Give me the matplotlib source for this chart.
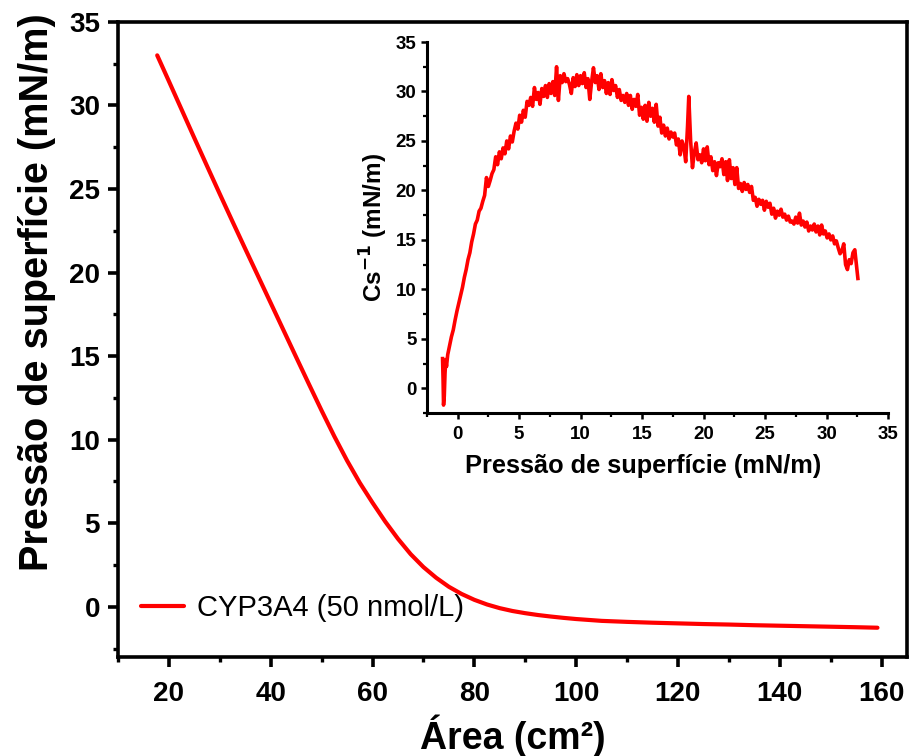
import matplotlib
matplotlib.use("Agg")
import matplotlib.pyplot as plt
from matplotlib.ticker import MultipleLocator

plt.rcParams['font.family'] = ['Liberation Sans', 'DejaVu Sans']

# Isotherm: surface pressure vs. trough area
area = [17.7, 20, 22.5, 25, 27.5, 30, 32.5, 35, 37.5, 40, 42.5, 45, 47.5, 50,
        52.5, 55, 57.5, 60, 62.5, 65, 67.5, 70, 72.5, 75, 77.5, 80, 82.5, 85,
        87.5, 90, 92.5, 95, 97.5, 100, 105, 110, 115, 120, 125, 130, 135,
        140, 145, 150, 155, 159.2]
pressure = [33.0, 31.45, 29.75, 28.05, 26.37, 24.7, 23.05, 21.42, 19.8, 18.18,
            16.56, 14.94, 13.33, 11.74, 10.2, 8.75, 7.42, 6.23, 5.1, 4.07,
            3.15, 2.38, 1.74, 1.2, 0.77, 0.42, 0.14, -0.08, -0.25, -0.38,
            -0.49, -0.58, -0.66, -0.73, -0.84, -0.9, -0.95, -0.99, -1.03,
            -1.06, -1.1, -1.13, -1.16, -1.19, -1.22, -1.25]

# Compressional modulus vs. surface pressure
pi_inset = [-1.22, -1.18, -1.14, -1.08, -1.02, -0.96, -0.90, -0.80, -0.65, -0.50,
            -0.35, -0.20, -0.05, 0.10, 0.25, 0.40, 0.55, 0.70, 0.85, 1.00,
            1.15, 1.30, 1.45, 1.60, 1.75, 1.90, 2.05, 2.20, 2.35, 2.50,
            2.65, 2.80, 2.95, 3.10, 3.25, 3.40, 3.55, 3.70, 3.85, 4.00,
            4.15, 4.30, 4.45, 4.60, 4.75, 4.90, 5.05, 5.20, 5.35, 5.50,
            5.65, 5.80, 5.95, 6.10, 6.25, 6.40, 6.55, 6.70, 6.85, 7.00,
            7.15, 7.30, 7.45, 7.60, 7.75, 7.90, 8.05, 8.20, 8.35, 8.50,
            8.65, 8.80, 8.95, 9.10, 9.25, 9.40, 9.55, 9.70, 9.85, 10.00,
            10.15, 10.30, 10.45, 10.60, 10.75, 10.90, 11.05, 11.20, 11.35, 11.50,
            11.65, 11.80, 11.95, 12.10, 12.25, 12.40, 12.55, 12.70, 12.85, 13.00,
            13.15, 13.30, 13.45, 13.60, 13.75, 13.90, 14.05, 14.20, 14.35, 14.50,
            14.65, 14.80, 14.95, 15.10, 15.25, 15.40, 15.55, 15.70, 15.85, 16.00,
            16.15, 16.30, 16.45, 16.60, 16.75, 16.90, 17.05, 17.20, 17.35, 17.50,
            17.65, 17.80, 17.95, 18.10, 18.25, 18.40, 18.55, 18.70, 18.80, 18.95,
            19.10, 19.25, 19.40, 19.55, 19.70, 19.85, 20.00, 20.15, 20.30, 20.45,
            20.60, 20.75, 20.90, 21.05, 21.20, 21.35, 21.50, 21.65, 21.80, 21.95,
            22.10, 22.25, 22.40, 22.55, 22.70, 22.85, 23.00, 23.15, 23.30, 23.45,
            23.60, 23.75, 23.90, 24.05, 24.20, 24.35, 24.50, 24.65, 24.80, 24.95,
            25.10, 25.25, 25.40, 25.55, 25.70, 25.85, 26.00, 26.15, 26.30, 26.45,
            26.60, 26.75, 26.90, 27.05, 27.20, 27.35, 27.50, 27.65, 27.80, 27.95,
            28.10, 28.25, 28.40, 28.55, 28.70, 28.85, 29.00, 29.15, 29.30, 29.45,
            29.60, 29.75, 29.90, 30.05, 30.20, 30.35, 30.50, 30.65, 30.80, 30.95,
            31.10, 31.25, 31.40, 31.55, 31.70, 31.85, 32.00, 32.15, 32.30, 32.45,
            32.55]
cs_inv = [3.0, 1.0, -1.7, -0.8, 1.5, 2.9, 2.2, 3.4, 4.3, 5.2,
          5.9, 6.9, 7.8, 8.6, 9.4, 10.2, 11.2, 12.0, 13.0, 13.7,
          14.8, 15.6, 16.6, 17.0, 17.9, 18.2, 18.9, 19.5, 21.3, 20.4,
          21.0, 21.7, 22.1, 23.4, 22.6, 23.9, 23.2, 24.3, 23.7, 25.0,
          24.2, 25.5, 24.9, 26.0, 26.8, 26.2, 27.6, 26.9, 28.1, 27.4,
          29.0, 28.6, 29.4, 28.5, 30.4, 29.2, 29.9, 28.7, 30.3, 29.5,
          30.6, 29.4, 30.8, 29.8, 31.0, 29.6, 32.5, 29.1, 31.6, 30.9,
          31.8, 31.0, 31.3, 30.7, 29.8, 31.4, 30.5, 31.7, 30.6, 31.6,
          30.8, 31.9, 30.4, 31.3, 29.2, 31.0, 32.4, 30.9, 31.6, 30.2,
          31.8, 30.4, 31.1, 29.8, 30.9, 29.7, 31.2, 30.1, 30.6, 29.4,
          30.2, 29.1, 29.6, 28.9, 29.8, 28.6, 29.6, 28.2, 29.2, 28.5,
          29.7, 27.6, 28.4, 27.2, 28.6, 27.0, 28.9, 27.5, 28.3, 26.9,
          28.7, 26.5, 27.4, 25.8, 26.6, 25.5, 26.3, 25.2, 25.9, 25.4,
          25.8, 24.6, 25.2, 23.6, 25.0, 24.4, 22.9, 26.5, 29.5, 25.0,
          22.3, 23.8, 24.8, 23.1, 23.6, 22.8, 24.2, 23.0, 24.4, 22.6,
          23.4, 22.0, 22.9, 21.5, 22.8, 22.4, 23.2, 21.6, 22.9, 21.0,
          23.1, 21.2, 22.3, 20.6, 22.3, 20.2, 20.7, 19.9, 20.8, 20.1,
          20.6, 19.8, 20.4, 19.0, 19.3, 18.4, 19.1, 18.6, 19.0, 18.0,
          18.9, 18.3, 18.7, 17.6, 18.2, 17.2, 17.9, 17.5, 18.1, 17.3,
          17.6, 17.0, 17.4, 16.8, 16.9, 16.6, 17.3, 16.7, 17.7, 16.5,
          16.9, 16.3, 16.8, 15.9, 16.4, 16.0, 16.6, 15.8, 16.4, 15.5,
          16.5, 15.6, 15.9, 15.2, 15.6, 15.0, 15.4, 14.6, 14.9, 14.2,
          13.6, 13.9, 14.6, 12.5, 12.0, 13.0, 12.6, 13.7, 14.0, 12.2,
          11.1]

main_xticks = [20, 40, 60, 80, 100, 120, 140, 160]
main_yticks = [0, 5, 10, 15, 20, 25, 30, 35]
inset_ticks = [0, 5, 10, 15, 20, 25, 30, 35]

fig = plt.figure(figsize=(9.12, 7.56), dpi=100)
ax = fig.add_axes([0.1294, 0.131, 0.8651, 0.840])

ax.plot(area, pressure, color='#ff0000', lw=3.0, solid_capstyle='round',
        solid_joinstyle='round', label='CYP3A4 (50 nmol/L)')
ax.set_xlim(10, 165)
ax.set_ylim(-3, 35)
ax.set_xticks(main_xticks)
ax.set_yticks(main_yticks)
ax.xaxis.set_minor_locator(MultipleLocator(10))
ax.yaxis.set_minor_locator(MultipleLocator(2.5))
for s in ax.spines.values():
    s.set_linewidth(2.6)
ax.tick_params(axis='x', which='major', pad=10)
ax.tick_params(axis='y', which='major', pad=6)
ax.tick_params(which='major', direction='out', length=7, width=2.6,
               labelsize=20)
ax.tick_params(which='minor', direction='out', length=3.5, width=2.4)
for lbl in ax.get_xticklabels() + ax.get_yticklabels():
    lbl.set_fontweight('bold')
ax.set_xlabel('Área (cm²)', fontsize=27, fontweight='bold', labelpad=6)
ax.set_ylabel('Pressão de superfície (mN/m)', fontsize=28.5, fontweight='bold')
ax.yaxis.set_label_coords(-0.079, 0.575)

leg = ax.legend(loc='lower left', bbox_to_anchor=(0.0, 0.018), frameon=False,
                fontsize=21, handlelength=1.45, handletextpad=0.45,
                borderaxespad=0.4)

# Inset: compressional modulus
ins = fig.add_axes([0.468, 0.4537, 0.5057, 0.4907])
ins.plot(pi_inset, cs_inv, color='#ff0000', lw=2.6, solid_joinstyle='round')
ins.set_xlim(-2.5, 35)
ins.set_ylim(-2.5, 35)
ins.set_xticks(inset_ticks)
ins.set_yticks(inset_ticks)
ins.xaxis.set_minor_locator(MultipleLocator(2.5))
ins.yaxis.set_minor_locator(MultipleLocator(2.5))
ins.spines['top'].set_visible(False)
ins.spines['right'].set_visible(False)
ins.spines['left'].set_linewidth(2.2)
ins.spines['bottom'].set_linewidth(2.2)
ins.patch.set_alpha(0.0)
ins.tick_params(axis='x', which='major', pad=5)
ins.tick_params(axis='y', which='major', pad=3)
ins.tick_params(which='major', direction='out', length=4.5, width=1.8,
                labelsize=13.5)
ins.tick_params(which='minor', direction='out', length=2.8, width=1.6)
for lbl in ins.get_xticklabels() + ins.get_yticklabels():
    lbl.set_fontweight('bold')
ins.set_xlabel('Pressão de superfície (mN/m)', fontsize=18.3,
               fontweight='bold')
ins.xaxis.set_label_coords(0.47, -0.11)
ins.set_ylabel('Cs$^{\\mathbf{-1}}$ (mN/m)', fontsize=17.5, fontweight='bold',
               labelpad=4)

fig.savefig('out.png', dpi=100)
